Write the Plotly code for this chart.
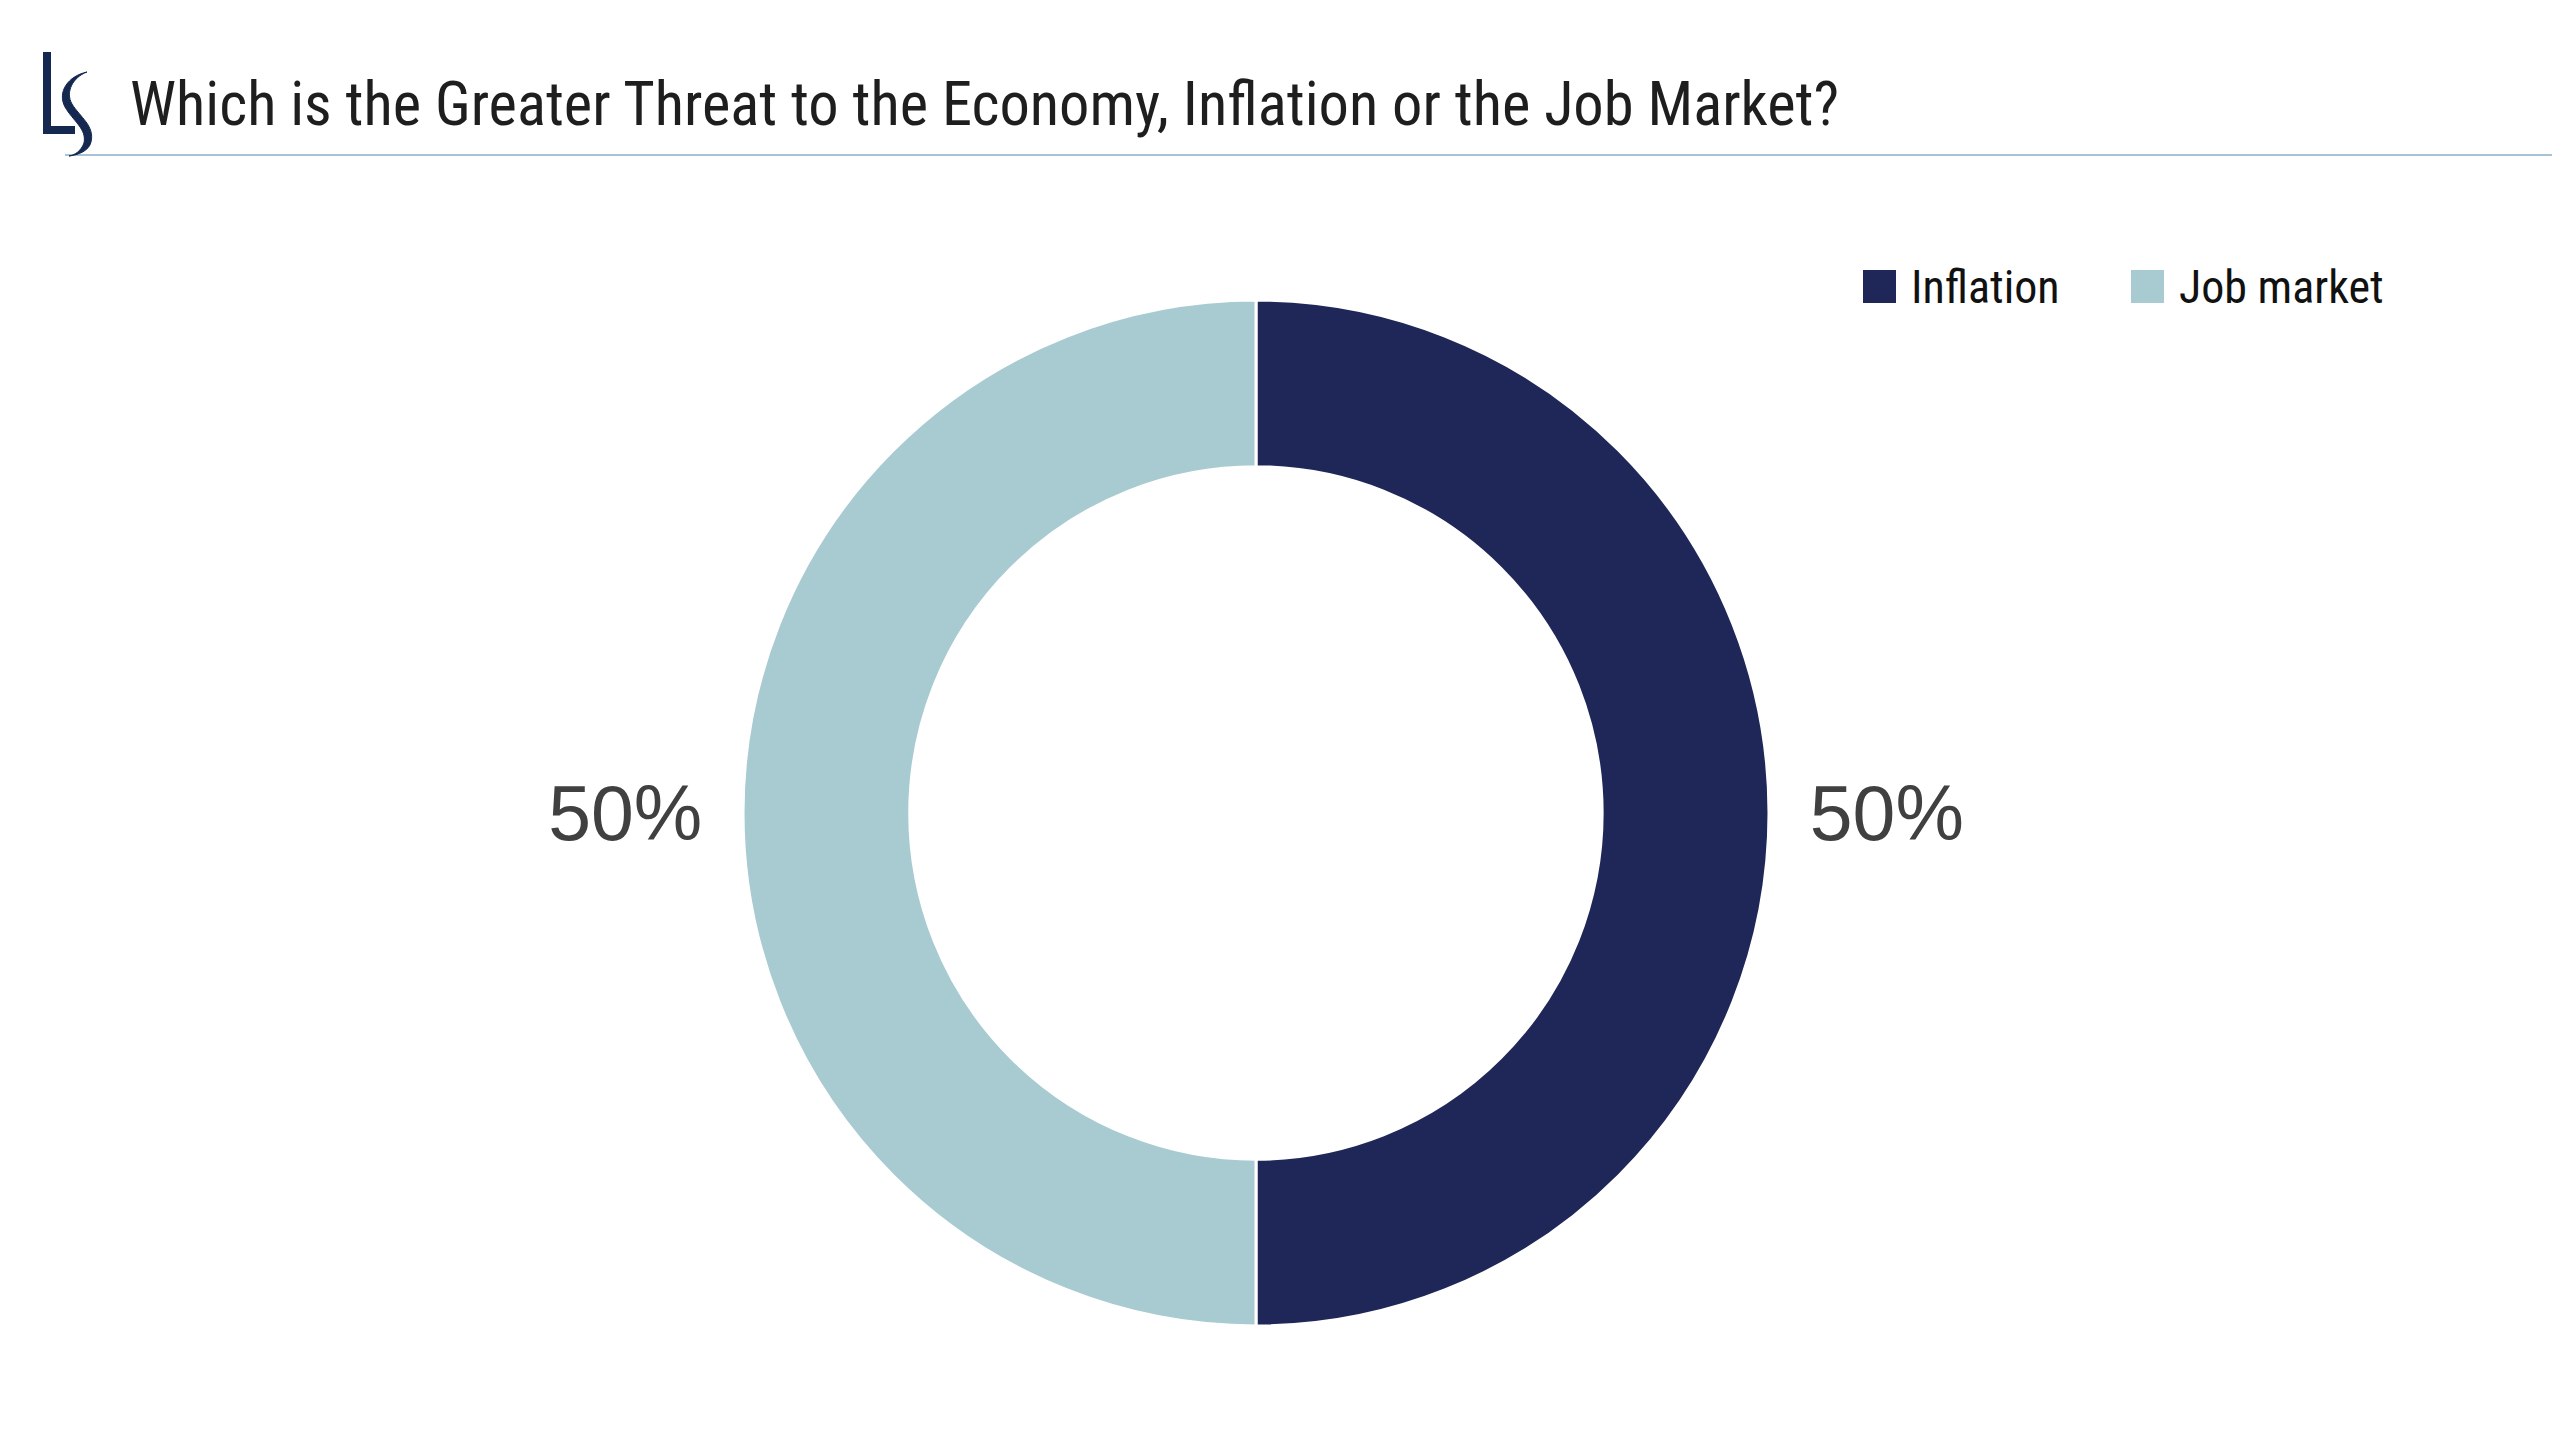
import plotly.graph_objects as go

# ---- data ----
categories = ["Inflation", "Job market"]
values = [50, 50]
colors = ["#1e2757", "#a8cad1"]
label_templates = ["\u2005%{percent:.0%}", "%{percent:.0%}\u2005"]
title_text = "Which is the Greater Threat to the Economy, Inflation or the Job Market?"

OFF = 8  # page body margin
W, H = 2560 - OFF, 1440 - OFF
NARROW = "Roboto Condensed, Liberation Sans Narrow, Arial Narrow, DejaVu Sans Condensed, sans-serif"


def fx(x):
    return (x - OFF) / W


def fy(y):
    return 1 - (y - OFF) / H


def px(x, y):
    return f"{fx(x)},{fy(y)}"


CX, CY, R = 1256, 813, 513

fig = go.Figure()
fig.add_trace(go.Pie(
    labels=categories,
    values=values,
    marker=dict(colors=colors, line=dict(color="white", width=3)),
    hole=0.675,
    sort=False,
    direction="clockwise",
    rotation=0,
    textposition="outside",
    texttemplate=label_templates,
    textfont=dict(family="Liberation Sans, Arial, sans-serif", size=77, color="#404040"),
    showlegend=False,
    domain=dict(x=[fx(CX - R), fx(CX + R)], y=[fy(CY + R), fy(CY - R)]),
    hoverinfo="label+percent",
))

shapes = []
annotations = []

# header rule
shapes.append(dict(type="line", xref="paper", yref="paper",
                   x0=fx(65), x1=1.0, y0=fy(155), y1=fy(155),
                   line=dict(color="#a9c2d4", width=2)))

LOGO = "#142850"
# logo "L"
shapes.append(dict(type="path", xref="paper", yref="paper",
                   path="M " + px(43, 52) + " L " + px(51, 52) + " L " + px(51, 126) + " L " + px(75, 126)
                        + " L " + px(75, 134) + " L " + px(43, 134) + " Z",
                   fillcolor=LOGO, line=dict(width=0)))
# logo "S"
shapes.append(dict(type="path", xref="paper", yref="paper",
                   path=("M " + px(87, 72)
                         + " C " + px(68, 76) + " " + px(57, 92) + " " + px(65, 107)
                         + " C " + px(73, 121) + " " + px(87, 129) + " " + px(84, 143)
                         + " C " + px(81, 151) + " " + px(75, 155) + " " + px(69, 156)
                         + " C " + px(78, 155) + " " + px(89, 151) + " " + px(91, 142)
                         + " C " + px(95, 126) + " " + px(80, 117) + " " + px(72, 104)
                         + " C " + px(65, 92) + " " + px(73, 77) + " " + px(87, 72) + " Z"),
                   fillcolor=LOGO, line=dict(color=LOGO, width=1)))

# custom legend
legend_x = [1863, 2131]
for i, (cat, col) in enumerate(zip(categories, colors)):
    x0 = legend_x[i]
    shapes.append(dict(type="rect", xref="paper", yref="paper",
                       x0=fx(x0), x1=fx(x0 + 33), y0=fy(303), y1=fy(270),
                       fillcolor=col, line=dict(width=0)))
    annotations.append(dict(text=cat, xref="paper", yref="paper",
                            x=fx(x0 + 46), y=fy(287), xanchor="left", yanchor="middle",
                            showarrow=False,
                            font=dict(family=NARROW, size=46, color="#111111")))

fig.update_layout(
    width=W, height=H,
    paper_bgcolor="white", plot_bgcolor="white",
    margin=dict(l=0, r=0, t=0, b=0),
    title=dict(text=title_text, x=fx(130), xanchor="left", xref="paper",
               y=fy(104), yanchor="middle", yref="paper",
               font=dict(family=NARROW, size=60.5, color="#1e1e1e")),
    shapes=shapes,
    annotations=annotations,
)

fig.write_html("out.html")
